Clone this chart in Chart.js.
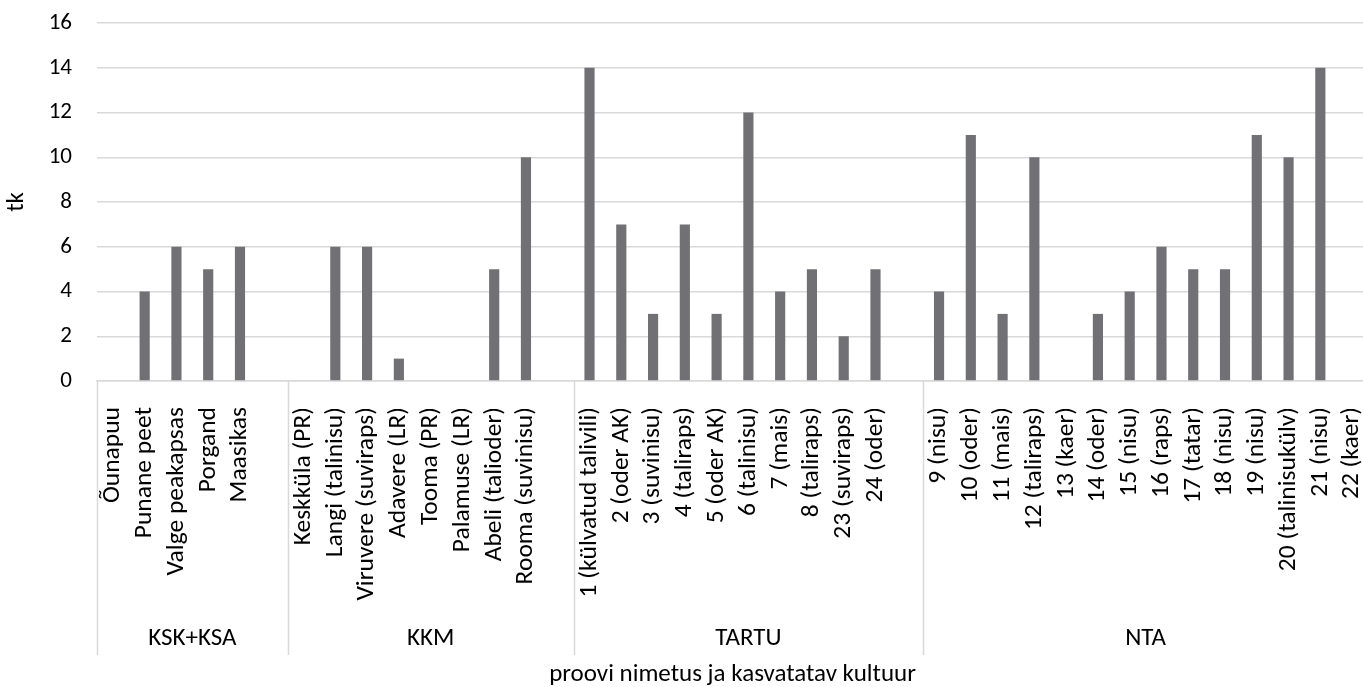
<!DOCTYPE html>
<html>
<head>
<meta charset="utf-8">
<script src="https://cdn.jsdelivr.net/npm/chart.js@4/dist/chart.umd.min.js"></script>
<style>
  html, body { margin: 0; padding: 0; background: #fff; overflow: hidden; }
  #wrap { width: 1368px; height: 687px; }
</style>
</head>
<body>
<div id="wrap"><canvas id="c" width="1368" height="687"></canvas></div>
<script>
// Sample names (blank entries keep a gap at the end of a site group)
const categories = [
  'Õunapuu', 'Punane peet', 'Valge peakapsas', 'Porgand', 'Maasikas', '',
  'Keskküla (PR)', 'Langi (talinisu)', 'Viruvere (suviraps)', 'Adavere (LR)',
  'Tooma (PR)', 'Palamuse (LR)', 'Abeli (talioder)', 'Rooma (suvinisu)', '',
  '1 (külvatud talivili)', '2 (oder AK)', '3 (suvinisu)', '4 (taliraps)', '5 (oder AK)',
  '6 (talinisu)', '7 (mais)', '8 (taliraps)', '23 (suviraps)', '24 (oder)', '',
  '9 (nisu)', '10 (oder)', '11 (mais)', '12 (taliraps)', '13 (kaer)', '14 (oder)',
  '15 (nisu)', '16 (raps)', '17 (tatar)', '18 (nisu)', '19 (nisu)',
  '20 (talinisukülv)', '21 (nisu)', '22 (kaer)'
];

// Count (tk) per sample
const counts = [
  0, 4, 6, 5, 6, null,
  0, 6, 6, 1, 0, 0, 5, 10, null,
  14, 7, 3, 7, 3, 12, 4, 5, 2, 5, null,
  4, 11, 3, 10, 0, 3, 4, 6, 5, 5, 11, 10, 14, 0
];

// Site groups and how many category slots each spans
const groupNames = ['KSK+KSA', 'KKM', 'TARTU', 'NTA'];
const groupSizes = [6, 9, 11, 14];

const yTicks = [0, 2, 4, 6, 8, 10, 12, 14, 16];

const FONT = "Carlito, Calibri, Lato, sans-serif";
const TEXT = '#000000';
const GRID = '#d9d9d9';

// Second category level: group separators and group names under the tick labels
const groupAxis = {
  id: 'groupAxis',
  afterDraw(chart) {
    const x = chart.scales.x;
    const ctx = chart.ctx;
    const n = categories.length;
    const step = (x.right - x.left) / n;
    const top = chart.chartArea.bottom;
    const lineBottom = top + 274;
    const labelY = top + 258;
    ctx.save();
    ctx.strokeStyle = GRID;
    ctx.lineWidth = 1.5;
    ctx.fillStyle = TEXT;
    ctx.font = '25px ' + FONT;
    ctx.textAlign = 'center';
    ctx.textBaseline = 'middle';
    let start = 0;
    const edge = (i) => x.getPixelForValue(i) - step / 2;
    const drawSep = (px) => {
      ctx.beginPath();
      ctx.moveTo(Math.round(px) + 0.5, top);
      ctx.lineTo(Math.round(px) + 0.5, lineBottom);
      ctx.stroke();
    };
    drawSep(edge(0));
    groupNames.forEach((name, g) => {
      const end = start + groupSizes[g];
      const l = edge(start);
      const r = end < n ? edge(end) : x.getPixelForValue(n - 1) + step / 2;
      if (end < n) drawSep(r);
      ctx.fillText(name, (l + r) / 2, labelY);
      start = end;
    });
    ctx.restore();
  }
};

new Chart(document.getElementById('c'), {
  type: 'bar',
  data: {
    labels: categories,
    datasets: [{
      data: counts,
      backgroundColor: '#717075',
      borderWidth: 0,
      categoryPercentage: 1,
      barPercentage: 0.32
    }]
  },
  options: {
    responsive: false,
    devicePixelRatio: 1,
    animation: false,
    layout: { padding: { top: 23, right: 0, bottom: 0, left: 0 } },
    plugins: { legend: { display: false }, tooltip: { enabled: false } },
    scales: {
      x: {
        grid: { display: false },
        border: { display: true, color: GRID, width: 1.5 },
        ticks: {
          autoSkip: false,
          minRotation: 90,
          maxRotation: 90,
          padding: 18,
          color: TEXT,
          font: { family: FONT, size: 25.5 }
        },
        title: {
          display: true,
          text: 'proovi nimetus ja kasvatatav kultuur',
          color: TEXT,
          font: { family: FONT, size: 25, lineHeight: 1 },
          padding: { top: 0, bottom: 0 }
        },
        afterFit(scale) {
          scale.height = 306;
          // plot runs to the right edge; rotated labels need no side room
          scale.paddingLeft = 0;
          scale.paddingRight = 0;
        }
      },
      y: {
        min: 0,
        max: 16,
        afterBuildTicks(scale) { scale.ticks = yTicks.map(v => ({ value: v })); },
        grid: { color: GRID, lineWidth: 1.5, drawTicks: false },
        border: { display: false },
        ticks: {
          padding: 25,
          color: TEXT,
          font: { family: FONT, size: 23 }
        },
        title: {
          display: true,
          text: 'tk',
          color: TEXT,
          font: { family: FONT, size: 25, lineHeight: 1.2 },
          padding: { top: 2, bottom: 0 }
        },
        afterFit(scale) {
          scale.width = 97;
          scale.paddingTop = 0;
          scale.paddingBottom = 0;
        }
      }
    }
  },
  plugins: [groupAxis]
});
</script>
</body>
</html>
